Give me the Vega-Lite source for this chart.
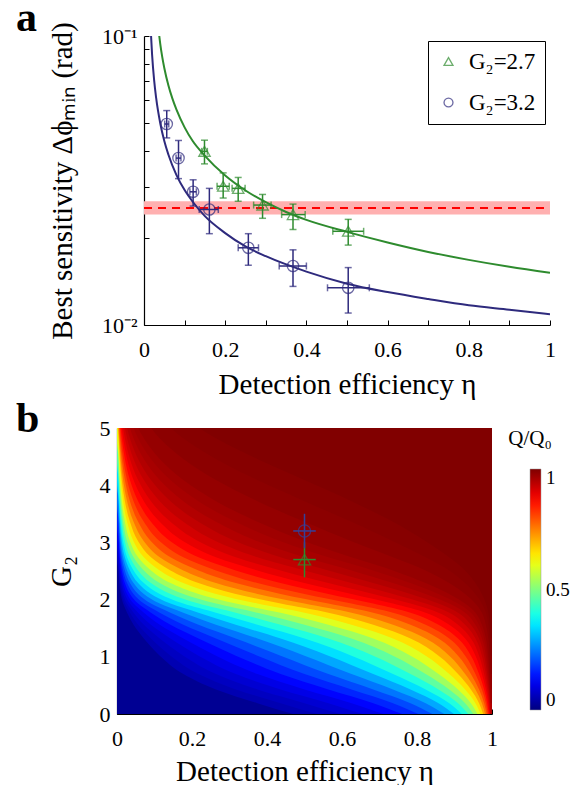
{
"$schema":"https://vega.github.io/schema/vega-lite/v6.json",
"padding":{"left":15,"top":-4,"right":0,"bottom":0},
"background":"white",
"config":{"font":"Liberation Serif","view":{"stroke":null},
"axis":{"domainColor":"#000","domainWidth":1.2,"tickColor":"#000","tickWidth":1,"tickSize":-5,"labelColor":"#000","labelFont":"Liberation Serif","labelFontSize":22,"titleFont":"Liberation Serif","titleFontSize":29,"titleFontWeight":"normal","titleColor":"#000","grid":false,"labelFlush":false,"zindex":1}},
"resolve":{"scale":{"color":"independent","shape":"independent","stroke":"independent","fill":"independent"},"legend":{"color":"independent","shape":"independent"}},
"spacing":-1,
"datasets":{
"ref":[{"x0":0,"x1":1,"lo":0.0241,"mid":0.0254,"hi":0.0268}],
"labA":[{"t":"a","x":-0.3153,"y":0.1041}],
"labB":[{"t":"b","x":-0.2693,"y":4.93}],
"curves":[
{"s":"G₂=2.7","x":0.0376,"y":0.1},{"s":"G₂=2.7","x":0.04,"y":0.094},{"s":"G₂=2.7","x":0.045,"y":0.0845},{"s":"G₂=2.7","x":0.05,"y":0.0775},{"s":"G₂=2.7","x":0.06,"y":0.0675},{"s":"G₂=2.7","x":0.07,"y":0.0607},{"s":"G₂=2.7","x":0.08,"y":0.0556},{"s":"G₂=2.7","x":0.1,"y":0.0483},{"s":"G₂=2.7","x":0.12,"y":0.0433},{"s":"G₂=2.7","x":0.15,"y":0.0385},{"s":"G₂=2.7","x":0.2,"y":0.0329},{"s":"G₂=2.7","x":0.25,"y":0.0292},{"s":"G₂=2.7","x":0.3,"y":0.0266},{"s":"G₂=2.7","x":0.35,"y":0.0246},{"s":"G₂=2.7","x":0.4,"y":0.0231},{"s":"G₂=2.7","x":0.5,"y":0.021},{"s":"G₂=2.7","x":0.6,"y":0.0193},{"s":"G₂=2.7","x":0.7,"y":0.0179},{"s":"G₂=2.7","x":0.8,"y":0.0168},{"s":"G₂=2.7","x":0.9,"y":0.0159},{"s":"G₂=2.7","x":1.0,"y":0.01516},
{"s":"G₂=3.2","x":0.0174,"y":0.1},{"s":"G₂=3.2","x":0.02,"y":0.0859},{"s":"G₂=3.2","x":0.025,"y":0.0702},{"s":"G₂=3.2","x":0.03,"y":0.0609},{"s":"G₂=3.2","x":0.04,"y":0.0499},{"s":"G₂=3.2","x":0.05,"y":0.0433},{"s":"G₂=3.2","x":0.06,"y":0.0389},{"s":"G₂=3.2","x":0.08,"y":0.033},{"s":"G₂=3.2","x":0.1,"y":0.0293},{"s":"G₂=3.2","x":0.12,"y":0.0267},{"s":"G₂=3.2","x":0.15,"y":0.0238},{"s":"G₂=3.2","x":0.2,"y":0.0208},{"s":"G₂=3.2","x":0.25,"y":0.0187},{"s":"G₂=3.2","x":0.3,"y":0.0173},{"s":"G₂=3.2","x":0.4,"y":0.0153},{"s":"G₂=3.2","x":0.5,"y":0.0139},{"s":"G₂=3.2","x":0.6,"y":0.013},{"s":"G₂=3.2","x":0.7,"y":0.0123},{"s":"G₂=3.2","x":0.8,"y":0.0117},{"s":"G₂=3.2","x":0.9,"y":0.0113},{"s":"G₂=3.2","x":1.0,"y":0.0109}],
"pts":[
{"s":"G₂=2.7","x":0.149,"y":0.0399,"ylo":0.0361,"yhi":0.0436,"xlo":0.142,"xhi":0.156},
{"s":"G₂=2.7","x":0.195,"y":0.0302,"ylo":0.0275,"yhi":0.0336,"xlo":0.18,"xhi":0.21},
{"s":"G₂=2.7","x":0.232,"y":0.0297,"ylo":0.0268,"yhi":0.0324,"xlo":0.217,"xhi":0.249},
{"s":"G₂=2.7","x":0.292,"y":0.026,"ylo":0.0234,"yhi":0.0283,"xlo":0.27,"xhi":0.313},
{"s":"G₂=2.7","x":0.367,"y":0.0241,"ylo":0.0214,"yhi":0.0262,"xlo":0.339,"xhi":0.397},
{"s":"G₂=2.7","x":0.503,"y":0.0211,"ylo":0.0189,"yhi":0.0232,"xlo":0.465,"xhi":0.541},
{"s":"G₂=3.2","x":0.056,"y":0.0496,"ylo":0.0444,"yhi":0.0552,"xlo":0.051,"xhi":0.061},
{"s":"G₂=3.2","x":0.085,"y":0.0378,"ylo":0.0321,"yhi":0.0435,"xlo":0.079,"xhi":0.091},
{"s":"G₂=3.2","x":0.121,"y":0.0289,"ylo":0.0258,"yhi":0.0318,"xlo":0.113,"xhi":0.129},
{"s":"G₂=3.2","x":0.161,"y":0.0251,"ylo":0.0207,"yhi":0.0297,"xlo":0.136,"xhi":0.183},
{"s":"G₂=3.2","x":0.257,"y":0.0185,"ylo":0.0161,"yhi":0.0207,"xlo":0.232,"xhi":0.282},
{"s":"G₂=3.2","x":0.367,"y":0.016,"ylo":0.0136,"yhi":0.0182,"xlo":0.333,"xhi":0.4},
{"s":"G₂=3.2","x":0.503,"y":0.01345,"ylo":0.011,"yhi":0.0158,"xlo":0.452,"xhi":0.555}],
"pts2":[
{"s":"G₂=2.7","x":0.5,"y":2.7,"ylo":2.39,"yhi":3.0,"xlo":0.47,"xhi":0.53},
{"s":"G₂=3.2","x":0.5,"y":3.2,"ylo":2.9,"yhi":3.5,"xlo":0.47,"xhi":0.53}],
"cont":[
{"q":0.02,"g":-0.06,"e":0},{"q":0.02,"g":5.19,"e":0},
{"q":0.05,"g":-0.06,"e":0.5},{"q":0.05,"g":0.19,"e":0.3746},{"q":0.05,"g":0.43,"e":0.264},{"q":0.05,"g":0.7,"e":0.1769},{"q":0.05,"g":1.02,"e":0.114},{"q":0.05,"g":1.32,"e":0.0716},{"q":0.05,"g":1.56,"e":0.0441},{"q":0.05,"g":1.77,"e":0.0269},{"q":0.05,"g":1.93,"e":0.0163},{"q":0.05,"g":2.1,"e":0.0098},{"q":0.05,"g":2.29,"e":0.0059},{"q":0.05,"g":2.51,"e":0.0036},{"q":0.05,"g":2.74,"e":0},{"q":0.05,"g":5.19,"e":0},
{"q":0.064,"g":-0.06,"e":0.5637},{"q":0.064,"g":0.19,"e":0.4363},{"q":0.064,"g":0.43,"e":0.3167},{"q":0.064,"g":0.7,"e":0.2173},{"q":0.064,"g":1.02,"e":0.1426},{"q":0.064,"g":1.32,"e":0.0906},{"q":0.064,"g":1.56,"e":0.0563},{"q":0.064,"g":1.77,"e":0.0345},{"q":0.064,"g":1.93,"e":0.021},{"q":0.064,"g":2.1,"e":0.0127},{"q":0.064,"g":2.29,"e":0.0076},{"q":0.064,"g":2.51,"e":0.0046},{"q":0.064,"g":2.74,"e":0},{"q":0.064,"g":5.19,"e":0},
{"q":0.081,"g":-0.06,"e":0.6254},{"q":0.081,"g":0.19,"e":0.5},{"q":0.081,"g":0.43,"e":0.3746},{"q":0.081,"g":0.7,"e":0.264},{"q":0.081,"g":1.02,"e":0.1769},{"q":0.081,"g":1.32,"e":0.114},{"q":0.081,"g":1.56,"e":0.0716},{"q":0.081,"g":1.77,"e":0.0441},{"q":0.081,"g":1.93,"e":0.0269},{"q":0.081,"g":2.1,"e":0.0163},{"q":0.081,"g":2.29,"e":0.0098},{"q":0.081,"g":2.51,"e":0.0059},{"q":0.081,"g":2.74,"e":0.0036},{"q":0.081,"g":3.02,"e":0},{"q":0.081,"g":5.19,"e":0},
{"q":0.102,"g":-0.06,"e":0.6833},{"q":0.102,"g":0.19,"e":0.5637},{"q":0.102,"g":0.43,"e":0.4363},{"q":0.102,"g":0.7,"e":0.3167},{"q":0.102,"g":1.02,"e":0.2173},{"q":0.102,"g":1.32,"e":0.1426},{"q":0.102,"g":1.56,"e":0.0906},{"q":0.102,"g":1.77,"e":0.0563},{"q":0.102,"g":1.93,"e":0.0345},{"q":0.102,"g":2.1,"e":0.021},{"q":0.102,"g":2.29,"e":0.0127},{"q":0.102,"g":2.51,"e":0.0076},{"q":0.102,"g":2.74,"e":0.0046},{"q":0.102,"g":3.02,"e":0},{"q":0.102,"g":5.19,"e":0},
{"q":0.128,"g":-0.06,"e":0.736},{"q":0.128,"g":0.19,"e":0.6254},{"q":0.128,"g":0.43,"e":0.5},{"q":0.128,"g":0.7,"e":0.3746},{"q":0.128,"g":1.02,"e":0.264},{"q":0.128,"g":1.32,"e":0.1769},{"q":0.128,"g":1.56,"e":0.114},{"q":0.128,"g":1.77,"e":0.0716},{"q":0.128,"g":1.93,"e":0.0441},{"q":0.128,"g":2.1,"e":0.0269},{"q":0.128,"g":2.29,"e":0.0163},{"q":0.128,"g":2.51,"e":0.0098},{"q":0.128,"g":2.74,"e":0.0059},{"q":0.128,"g":3.02,"e":0.0036},{"q":0.128,"g":3.36,"e":0},{"q":0.128,"g":5.19,"e":0},
{"q":0.16,"g":-0.06,"e":0.7827},{"q":0.16,"g":0.19,"e":0.6833},{"q":0.16,"g":0.43,"e":0.5637},{"q":0.16,"g":0.7,"e":0.4363},{"q":0.16,"g":1.02,"e":0.3167},{"q":0.16,"g":1.32,"e":0.2173},{"q":0.16,"g":1.56,"e":0.1426},{"q":0.16,"g":1.77,"e":0.0906},{"q":0.16,"g":1.93,"e":0.0563},{"q":0.16,"g":2.1,"e":0.0345},{"q":0.16,"g":2.29,"e":0.021},{"q":0.16,"g":2.51,"e":0.0127},{"q":0.16,"g":2.74,"e":0.0076},{"q":0.16,"g":3.02,"e":0.0046},{"q":0.16,"g":3.36,"e":0},{"q":0.16,"g":5.19,"e":0},
{"q":0.197,"g":-0.06,"e":0.8231},{"q":0.197,"g":0.19,"e":0.736},{"q":0.197,"g":0.43,"e":0.6254},{"q":0.197,"g":0.7,"e":0.5},{"q":0.197,"g":1.02,"e":0.3746},{"q":0.197,"g":1.32,"e":0.264},{"q":0.197,"g":1.56,"e":0.1769},{"q":0.197,"g":1.77,"e":0.114},{"q":0.197,"g":1.93,"e":0.0716},{"q":0.197,"g":2.1,"e":0.0441},{"q":0.197,"g":2.29,"e":0.0269},{"q":0.197,"g":2.51,"e":0.0163},{"q":0.197,"g":2.74,"e":0.0098},{"q":0.197,"g":3.02,"e":0.0059},{"q":0.197,"g":3.36,"e":0.0036},{"q":0.197,"g":3.72,"e":0},{"q":0.197,"g":5.19,"e":0},
{"q":0.241,"g":-0.06,"e":0.8574},{"q":0.241,"g":0.19,"e":0.7827},{"q":0.241,"g":0.43,"e":0.6833},{"q":0.241,"g":0.7,"e":0.5637},{"q":0.241,"g":1.02,"e":0.4363},{"q":0.241,"g":1.32,"e":0.3167},{"q":0.241,"g":1.56,"e":0.2173},{"q":0.241,"g":1.77,"e":0.1426},{"q":0.241,"g":1.93,"e":0.0906},{"q":0.241,"g":2.1,"e":0.0563},{"q":0.241,"g":2.29,"e":0.0345},{"q":0.241,"g":2.51,"e":0.021},{"q":0.241,"g":2.74,"e":0.0127},{"q":0.241,"g":3.02,"e":0.0076},{"q":0.241,"g":3.36,"e":0.0046},{"q":0.241,"g":3.72,"e":0},{"q":0.241,"g":5.19,"e":0},
{"q":0.29,"g":-0.06,"e":0.886},{"q":0.29,"g":0.19,"e":0.8231},{"q":0.29,"g":0.43,"e":0.736},{"q":0.29,"g":0.7,"e":0.6254},{"q":0.29,"g":1.02,"e":0.5},{"q":0.29,"g":1.32,"e":0.3746},{"q":0.29,"g":1.56,"e":0.264},{"q":0.29,"g":1.77,"e":0.1769},{"q":0.29,"g":1.93,"e":0.114},{"q":0.29,"g":2.1,"e":0.0716},{"q":0.29,"g":2.29,"e":0.0441},{"q":0.29,"g":2.51,"e":0.0269},{"q":0.29,"g":2.74,"e":0.0163},{"q":0.29,"g":3.02,"e":0.0098},{"q":0.29,"g":3.36,"e":0.0059},{"q":0.29,"g":3.72,"e":0.0036},{"q":0.29,"g":4.09,"e":0},{"q":0.29,"g":5.19,"e":0},
{"q":0.346,"g":-0.06,"e":0.9094},{"q":0.346,"g":0.19,"e":0.8574},{"q":0.346,"g":0.43,"e":0.7827},{"q":0.346,"g":0.7,"e":0.6833},{"q":0.346,"g":1.02,"e":0.5637},{"q":0.346,"g":1.32,"e":0.4363},{"q":0.346,"g":1.56,"e":0.3167},{"q":0.346,"g":1.77,"e":0.2173},{"q":0.346,"g":1.93,"e":0.1426},{"q":0.346,"g":2.1,"e":0.0906},{"q":0.346,"g":2.29,"e":0.0563},{"q":0.346,"g":2.51,"e":0.0345},{"q":0.346,"g":2.74,"e":0.021},{"q":0.346,"g":3.02,"e":0.0127},{"q":0.346,"g":3.36,"e":0.0076},{"q":0.346,"g":3.72,"e":0.0046},{"q":0.346,"g":4.09,"e":0},{"q":0.346,"g":5.19,"e":0},
{"q":0.406,"g":-0.06,"e":0.9284},{"q":0.406,"g":0.19,"e":0.886},{"q":0.406,"g":0.43,"e":0.8231},{"q":0.406,"g":0.7,"e":0.736},{"q":0.406,"g":1.02,"e":0.6254},{"q":0.406,"g":1.32,"e":0.5},{"q":0.406,"g":1.56,"e":0.3746},{"q":0.406,"g":1.77,"e":0.264},{"q":0.406,"g":1.93,"e":0.1769},{"q":0.406,"g":2.1,"e":0.114},{"q":0.406,"g":2.29,"e":0.0716},{"q":0.406,"g":2.51,"e":0.0441},{"q":0.406,"g":2.74,"e":0.0269},{"q":0.406,"g":3.02,"e":0.0163},{"q":0.406,"g":3.36,"e":0.0098},{"q":0.406,"g":3.72,"e":0.0059},{"q":0.406,"g":4.09,"e":0.0036},{"q":0.406,"g":4.46,"e":0},{"q":0.406,"g":5.19,"e":0},
{"q":0.468,"g":-0.06,"e":0.9437},{"q":0.468,"g":0.19,"e":0.9094},{"q":0.468,"g":0.43,"e":0.8574},{"q":0.468,"g":0.7,"e":0.7827},{"q":0.468,"g":1.02,"e":0.6833},{"q":0.468,"g":1.32,"e":0.5637},{"q":0.468,"g":1.56,"e":0.4363},{"q":0.468,"g":1.77,"e":0.3167},{"q":0.468,"g":1.93,"e":0.2173},{"q":0.468,"g":2.1,"e":0.1426},{"q":0.468,"g":2.29,"e":0.0906},{"q":0.468,"g":2.51,"e":0.0563},{"q":0.468,"g":2.74,"e":0.0345},{"q":0.468,"g":3.02,"e":0.021},{"q":0.468,"g":3.36,"e":0.0127},{"q":0.468,"g":3.72,"e":0.0076},{"q":0.468,"g":4.09,"e":0.0046},{"q":0.468,"g":4.46,"e":0},{"q":0.468,"g":5.19,"e":0},
{"q":0.532,"g":-0.06,"e":0.9559},{"q":0.532,"g":0.19,"e":0.9284},{"q":0.532,"g":0.43,"e":0.886},{"q":0.532,"g":0.7,"e":0.8231},{"q":0.532,"g":1.02,"e":0.736},{"q":0.532,"g":1.32,"e":0.6254},{"q":0.532,"g":1.56,"e":0.5},{"q":0.532,"g":1.77,"e":0.3746},{"q":0.532,"g":1.93,"e":0.264},{"q":0.532,"g":2.1,"e":0.1769},{"q":0.532,"g":2.29,"e":0.114},{"q":0.532,"g":2.51,"e":0.0716},{"q":0.532,"g":2.74,"e":0.0441},{"q":0.532,"g":3.02,"e":0.0269},{"q":0.532,"g":3.36,"e":0.0163},{"q":0.532,"g":3.72,"e":0.0098},{"q":0.532,"g":4.09,"e":0.0059},{"q":0.532,"g":4.46,"e":0.0036},{"q":0.532,"g":4.82,"e":0},{"q":0.532,"g":5.19,"e":0},
{"q":0.595,"g":-0.06,"e":0.9655},{"q":0.595,"g":0.19,"e":0.9437},{"q":0.595,"g":0.43,"e":0.9094},{"q":0.595,"g":0.7,"e":0.8574},{"q":0.595,"g":1.02,"e":0.7827},{"q":0.595,"g":1.32,"e":0.6833},{"q":0.595,"g":1.56,"e":0.5637},{"q":0.595,"g":1.77,"e":0.4363},{"q":0.595,"g":1.93,"e":0.3167},{"q":0.595,"g":2.1,"e":0.2173},{"q":0.595,"g":2.29,"e":0.1426},{"q":0.595,"g":2.51,"e":0.0906},{"q":0.595,"g":2.74,"e":0.0563},{"q":0.595,"g":3.02,"e":0.0345},{"q":0.595,"g":3.36,"e":0.021},{"q":0.595,"g":3.72,"e":0.0127},{"q":0.595,"g":4.09,"e":0.0076},{"q":0.595,"g":4.46,"e":0.0046},{"q":0.595,"g":4.82,"e":0},{"q":0.595,"g":5.19,"e":0},
{"q":0.654,"g":-0.06,"e":0.9731},{"q":0.654,"g":0.19,"e":0.9559},{"q":0.654,"g":0.43,"e":0.9284},{"q":0.654,"g":0.7,"e":0.886},{"q":0.654,"g":1.02,"e":0.8231},{"q":0.654,"g":1.32,"e":0.736},{"q":0.654,"g":1.56,"e":0.6254},{"q":0.654,"g":1.77,"e":0.5},{"q":0.654,"g":1.93,"e":0.3746},{"q":0.654,"g":2.1,"e":0.264},{"q":0.654,"g":2.29,"e":0.1769},{"q":0.654,"g":2.51,"e":0.114},{"q":0.654,"g":2.74,"e":0.0716},{"q":0.654,"g":3.02,"e":0.0441},{"q":0.654,"g":3.36,"e":0.0269},{"q":0.654,"g":3.72,"e":0.0163},{"q":0.654,"g":4.09,"e":0.0098},{"q":0.654,"g":4.46,"e":0.0059},{"q":0.654,"g":4.82,"e":0.0036},{"q":0.654,"g":5.19,"e":0},
{"q":0.71,"g":-0.06,"e":0.979},{"q":0.71,"g":0.19,"e":0.9655},{"q":0.71,"g":0.43,"e":0.9437},{"q":0.71,"g":0.7,"e":0.9094},{"q":0.71,"g":1.02,"e":0.8574},{"q":0.71,"g":1.32,"e":0.7827},{"q":0.71,"g":1.56,"e":0.6833},{"q":0.71,"g":1.77,"e":0.5637},{"q":0.71,"g":1.93,"e":0.4363},{"q":0.71,"g":2.1,"e":0.3167},{"q":0.71,"g":2.29,"e":0.2173},{"q":0.71,"g":2.51,"e":0.1426},{"q":0.71,"g":2.74,"e":0.0906},{"q":0.71,"g":3.02,"e":0.0563},{"q":0.71,"g":3.36,"e":0.0345},{"q":0.71,"g":3.72,"e":0.021},{"q":0.71,"g":4.09,"e":0.0127},{"q":0.71,"g":4.46,"e":0.0076},{"q":0.71,"g":4.82,"e":0.0046},{"q":0.71,"g":5.19,"e":0},
{"q":0.759,"g":-0.06,"e":0.9837},{"q":0.759,"g":0.19,"e":0.9731},{"q":0.759,"g":0.43,"e":0.9559},{"q":0.759,"g":0.7,"e":0.9284},{"q":0.759,"g":1.02,"e":0.886},{"q":0.759,"g":1.32,"e":0.8231},{"q":0.759,"g":1.56,"e":0.736},{"q":0.759,"g":1.77,"e":0.6254},{"q":0.759,"g":1.93,"e":0.5},{"q":0.759,"g":2.1,"e":0.3746},{"q":0.759,"g":2.29,"e":0.264},{"q":0.759,"g":2.51,"e":0.1769},{"q":0.759,"g":2.74,"e":0.114},{"q":0.759,"g":3.02,"e":0.0716},{"q":0.759,"g":3.36,"e":0.0441},{"q":0.759,"g":3.72,"e":0.0269},{"q":0.759,"g":4.09,"e":0.0163},{"q":0.759,"g":4.46,"e":0.0098},{"q":0.759,"g":4.82,"e":0.0059},{"q":0.759,"g":5.19,"e":0.0036},
{"q":0.803,"g":-0.06,"e":0.9873},{"q":0.803,"g":0.19,"e":0.979},{"q":0.803,"g":0.43,"e":0.9655},{"q":0.803,"g":0.7,"e":0.9437},{"q":0.803,"g":1.02,"e":0.9094},{"q":0.803,"g":1.32,"e":0.8574},{"q":0.803,"g":1.56,"e":0.7827},{"q":0.803,"g":1.77,"e":0.6833},{"q":0.803,"g":1.93,"e":0.5637},{"q":0.803,"g":2.1,"e":0.4363},{"q":0.803,"g":2.29,"e":0.3167},{"q":0.803,"g":2.51,"e":0.2173},{"q":0.803,"g":2.74,"e":0.1426},{"q":0.803,"g":3.02,"e":0.0906},{"q":0.803,"g":3.36,"e":0.0563},{"q":0.803,"g":3.72,"e":0.0345},{"q":0.803,"g":4.09,"e":0.021},{"q":0.803,"g":4.46,"e":0.0127},{"q":0.803,"g":4.82,"e":0.0076},{"q":0.803,"g":5.19,"e":0.0046},
{"q":0.84,"g":-0.06,"e":0.9902},{"q":0.84,"g":0.19,"e":0.9837},{"q":0.84,"g":0.43,"e":0.9731},{"q":0.84,"g":0.7,"e":0.9559},{"q":0.84,"g":1.02,"e":0.9284},{"q":0.84,"g":1.32,"e":0.886},{"q":0.84,"g":1.56,"e":0.8231},{"q":0.84,"g":1.77,"e":0.736},{"q":0.84,"g":1.93,"e":0.6254},{"q":0.84,"g":2.1,"e":0.5},{"q":0.84,"g":2.29,"e":0.3746},{"q":0.84,"g":2.51,"e":0.264},{"q":0.84,"g":2.74,"e":0.1769},{"q":0.84,"g":3.02,"e":0.114},{"q":0.84,"g":3.36,"e":0.0716},{"q":0.84,"g":3.72,"e":0.0441},{"q":0.84,"g":4.09,"e":0.0269},{"q":0.84,"g":4.46,"e":0.0163},{"q":0.84,"g":4.82,"e":0.0098},{"q":0.84,"g":5.19,"e":0.0059},
{"q":0.872,"g":-0.06,"e":0.9924},{"q":0.872,"g":0.19,"e":0.9873},{"q":0.872,"g":0.43,"e":0.979},{"q":0.872,"g":0.7,"e":0.9655},{"q":0.872,"g":1.02,"e":0.9437},{"q":0.872,"g":1.32,"e":0.9094},{"q":0.872,"g":1.56,"e":0.8574},{"q":0.872,"g":1.77,"e":0.7827},{"q":0.872,"g":1.93,"e":0.6833},{"q":0.872,"g":2.1,"e":0.5637},{"q":0.872,"g":2.29,"e":0.4363},{"q":0.872,"g":2.51,"e":0.3167},{"q":0.872,"g":2.74,"e":0.2173},{"q":0.872,"g":3.02,"e":0.1426},{"q":0.872,"g":3.36,"e":0.0906},{"q":0.872,"g":3.72,"e":0.0563},{"q":0.872,"g":4.09,"e":0.0345},{"q":0.872,"g":4.46,"e":0.021},{"q":0.872,"g":4.82,"e":0.0127},{"q":0.872,"g":5.19,"e":0.0076},
{"q":0.898,"g":-0.06,"e":0.9941},{"q":0.898,"g":0.19,"e":0.9902},{"q":0.898,"g":0.43,"e":0.9837},{"q":0.898,"g":0.7,"e":0.9731},{"q":0.898,"g":1.02,"e":0.9559},{"q":0.898,"g":1.32,"e":0.9284},{"q":0.898,"g":1.56,"e":0.886},{"q":0.898,"g":1.77,"e":0.8231},{"q":0.898,"g":1.93,"e":0.736},{"q":0.898,"g":2.1,"e":0.6254},{"q":0.898,"g":2.29,"e":0.5},{"q":0.898,"g":2.51,"e":0.3746},{"q":0.898,"g":2.74,"e":0.264},{"q":0.898,"g":3.02,"e":0.1769},{"q":0.898,"g":3.36,"e":0.114},{"q":0.898,"g":3.72,"e":0.0716},{"q":0.898,"g":4.09,"e":0.0441},{"q":0.898,"g":4.46,"e":0.0269},{"q":0.898,"g":4.82,"e":0.0163},{"q":0.898,"g":5.19,"e":0.0098},
{"q":0.919,"g":-0.06,"e":0.9954},{"q":0.919,"g":0.19,"e":0.9924},{"q":0.919,"g":0.43,"e":0.9873},{"q":0.919,"g":0.7,"e":0.979},{"q":0.919,"g":1.02,"e":0.9655},{"q":0.919,"g":1.32,"e":0.9437},{"q":0.919,"g":1.56,"e":0.9094},{"q":0.919,"g":1.77,"e":0.8574},{"q":0.919,"g":1.93,"e":0.7827},{"q":0.919,"g":2.1,"e":0.6833},{"q":0.919,"g":2.29,"e":0.5637},{"q":0.919,"g":2.51,"e":0.4363},{"q":0.919,"g":2.74,"e":0.3167},{"q":0.919,"g":3.02,"e":0.2173},{"q":0.919,"g":3.36,"e":0.1426},{"q":0.919,"g":3.72,"e":0.0906},{"q":0.919,"g":4.09,"e":0.0563},{"q":0.919,"g":4.46,"e":0.0345},{"q":0.919,"g":4.82,"e":0.021},{"q":0.919,"g":5.19,"e":0.0127},
{"q":0.936,"g":-0.06,"e":0.9965},{"q":0.936,"g":0.19,"e":0.9941},{"q":0.936,"g":0.43,"e":0.9902},{"q":0.936,"g":0.7,"e":0.9837},{"q":0.936,"g":1.02,"e":0.9731},{"q":0.936,"g":1.32,"e":0.9559},{"q":0.936,"g":1.56,"e":0.9284},{"q":0.936,"g":1.77,"e":0.886},{"q":0.936,"g":1.93,"e":0.8231},{"q":0.936,"g":2.1,"e":0.736},{"q":0.936,"g":2.29,"e":0.6254},{"q":0.936,"g":2.51,"e":0.5},{"q":0.936,"g":2.74,"e":0.3746},{"q":0.936,"g":3.02,"e":0.264},{"q":0.936,"g":3.36,"e":0.1769},{"q":0.936,"g":3.72,"e":0.114},{"q":0.936,"g":4.09,"e":0.0716},{"q":0.936,"g":4.46,"e":0.0441},{"q":0.936,"g":4.82,"e":0.0269},{"q":0.936,"g":5.19,"e":0.0163},
{"q":0.95,"g":-0.06,"e":0.9972},{"q":0.95,"g":0.19,"e":0.9954},{"q":0.95,"g":0.43,"e":0.9924},{"q":0.95,"g":0.7,"e":0.9873},{"q":0.95,"g":1.02,"e":0.979},{"q":0.95,"g":1.32,"e":0.9655},{"q":0.95,"g":1.56,"e":0.9437},{"q":0.95,"g":1.77,"e":0.9094},{"q":0.95,"g":1.93,"e":0.8574},{"q":0.95,"g":2.1,"e":0.7827},{"q":0.95,"g":2.29,"e":0.6833},{"q":0.95,"g":2.51,"e":0.5637},{"q":0.95,"g":2.74,"e":0.4363},{"q":0.95,"g":3.02,"e":0.3167},{"q":0.95,"g":3.36,"e":0.2173},{"q":0.95,"g":3.72,"e":0.1426},{"q":0.95,"g":4.09,"e":0.0906},{"q":0.95,"g":4.46,"e":0.0563},{"q":0.95,"g":4.82,"e":0.0345},{"q":0.95,"g":5.19,"e":0.021},
{"q":0.961,"g":0.19,"e":0.9965},{"q":0.961,"g":0.43,"e":0.9941},{"q":0.961,"g":0.7,"e":0.9902},{"q":0.961,"g":1.02,"e":0.9837},{"q":0.961,"g":1.32,"e":0.9731},{"q":0.961,"g":1.56,"e":0.9559},{"q":0.961,"g":1.77,"e":0.9284},{"q":0.961,"g":1.93,"e":0.886},{"q":0.961,"g":2.1,"e":0.8231},{"q":0.961,"g":2.29,"e":0.736},{"q":0.961,"g":2.51,"e":0.6254},{"q":0.961,"g":2.74,"e":0.5},{"q":0.961,"g":3.02,"e":0.3746},{"q":0.961,"g":3.36,"e":0.264},{"q":0.961,"g":3.72,"e":0.1769},{"q":0.961,"g":4.09,"e":0.114},{"q":0.961,"g":4.46,"e":0.0716},{"q":0.961,"g":4.82,"e":0.0441},{"q":0.961,"g":5.19,"e":0.0269},
{"q":0.969,"g":0.19,"e":0.9972},{"q":0.969,"g":0.43,"e":0.9954},{"q":0.969,"g":0.7,"e":0.9924},{"q":0.969,"g":1.02,"e":0.9873},{"q":0.969,"g":1.32,"e":0.979},{"q":0.969,"g":1.56,"e":0.9655},{"q":0.969,"g":1.77,"e":0.9437},{"q":0.969,"g":1.93,"e":0.9094},{"q":0.969,"g":2.1,"e":0.8574},{"q":0.969,"g":2.29,"e":0.7827},{"q":0.969,"g":2.51,"e":0.6833},{"q":0.969,"g":2.74,"e":0.5637},{"q":0.969,"g":3.02,"e":0.4363},{"q":0.969,"g":3.36,"e":0.3167},{"q":0.969,"g":3.72,"e":0.2173},{"q":0.969,"g":4.09,"e":0.1426},{"q":0.969,"g":4.46,"e":0.0906},{"q":0.969,"g":4.82,"e":0.0563},{"q":0.969,"g":5.19,"e":0.0345},
{"q":0.979,"g":0.43,"e":0.9965},{"q":0.979,"g":0.7,"e":0.9941},{"q":0.979,"g":1.02,"e":0.9902},{"q":0.979,"g":1.32,"e":0.9837},{"q":0.979,"g":1.56,"e":0.9731},{"q":0.979,"g":1.77,"e":0.9559},{"q":0.979,"g":1.93,"e":0.9284},{"q":0.979,"g":2.1,"e":0.886},{"q":0.979,"g":2.29,"e":0.8231},{"q":0.979,"g":2.51,"e":0.736},{"q":0.979,"g":2.74,"e":0.6254},{"q":0.979,"g":3.02,"e":0.5},{"q":0.979,"g":3.36,"e":0.3746},{"q":0.979,"g":3.72,"e":0.264},{"q":0.979,"g":4.09,"e":0.1769},{"q":0.979,"g":4.46,"e":0.114},{"q":0.979,"g":4.82,"e":0.0716},{"q":0.979,"g":5.19,"e":0.0441},
{"q":0.987,"g":0.7,"e":0.9965},{"q":0.987,"g":1.02,"e":0.9941},{"q":0.987,"g":1.32,"e":0.9902},{"q":0.987,"g":1.56,"e":0.9837},{"q":0.987,"g":1.77,"e":0.9731},{"q":0.987,"g":1.93,"e":0.9559},{"q":0.987,"g":2.1,"e":0.9284},{"q":0.987,"g":2.29,"e":0.886},{"q":0.987,"g":2.51,"e":0.8231},{"q":0.987,"g":2.74,"e":0.736},{"q":0.987,"g":3.02,"e":0.6254},{"q":0.987,"g":3.36,"e":0.5},{"q":0.987,"g":3.72,"e":0.3746},{"q":0.987,"g":4.09,"e":0.264},{"q":0.987,"g":4.46,"e":0.1769},{"q":0.987,"g":4.82,"e":0.114},{"q":0.987,"g":5.19,"e":0.0716},
{"q":0.992,"g":1.02,"e":0.9965},{"q":0.992,"g":1.32,"e":0.9941},{"q":0.992,"g":1.56,"e":0.9902},{"q":0.992,"g":1.77,"e":0.9837},{"q":0.992,"g":1.93,"e":0.9731},{"q":0.992,"g":2.1,"e":0.9559},{"q":0.992,"g":2.29,"e":0.9284},{"q":0.992,"g":2.51,"e":0.886},{"q":0.992,"g":2.74,"e":0.8231},{"q":0.992,"g":3.02,"e":0.736},{"q":0.992,"g":3.36,"e":0.6254},{"q":0.992,"g":3.72,"e":0.5},{"q":0.992,"g":4.09,"e":0.3746},{"q":0.992,"g":4.46,"e":0.264},{"q":0.992,"g":4.82,"e":0.1769},{"q":0.992,"g":5.19,"e":0.114},
{"q":0.998,"g":1.32,"e":0.9965},{"q":0.998,"g":1.56,"e":0.9941},{"q":0.998,"g":1.77,"e":0.9902},{"q":0.998,"g":1.93,"e":0.9837},{"q":0.998,"g":2.1,"e":0.9731},{"q":0.998,"g":2.29,"e":0.9559},{"q":0.998,"g":2.51,"e":0.9284},{"q":0.998,"g":2.74,"e":0.886},{"q":0.998,"g":3.02,"e":0.8231},{"q":0.998,"g":3.36,"e":0.736},{"q":0.998,"g":3.72,"e":0.6254},{"q":0.998,"g":4.09,"e":0.5},{"q":0.998,"g":4.46,"e":0.3746},{"q":0.998,"g":4.82,"e":0.264},{"q":0.998,"g":5.19,"e":0.1769}
]},
"vconcat":[
{"width":433,"height":289,
"layer":[
{"data":{"name":"ref"},"mark":{"type":"rect","color":"#ffb0b0"},
"encoding":{"x":{"field":"x0","type":"quantitative","title":"Detection efficiency η","scale":{"domain":[0,1],"range":[27,433],"nice":false,"zero":false}},"x2":{"field":"x1"},
"y":{"field":"lo","type":"quantitative","title":"Best sensitivity Δϕₘᵢₙ (rad)","scale":{"type":"log","domain":[0.01,0.1],"nice":false}},"y2":{"field":"hi"}}},
{"data":{"name":"ref"},"mark":{"type":"rule","color":"#ff0000","strokeWidth":2,"strokeDash":[8,6]},
"encoding":{"x":{"field":"x0","type":"quantitative","title":"Detection efficiency η"},"x2":{"field":"x1"},"y":{"field":"mid","type":"quantitative","title":"Best sensitivity Δϕₘᵢₙ (rad)","scale":{"type":"log","domain":[0.01,0.1],"nice":false}}}},
{"data":{"name":"curves"},"mark":{"type":"line","strokeWidth":2,"clip":true,"interpolate":"monotone"},
"encoding":{"x":{"field":"x","type":"quantitative","title":"Detection efficiency η","scale":{"domain":[0,1],"range":[27,433],"nice":false,"zero":false},
"axis":{"values":[0,0.05,0.1,0.15,0.2,0.25,0.3,0.35,0.4,0.45,0.5,0.55,0.6,0.65,0.7,0.75,0.8,0.85,0.9,0.95,1],"labelExpr":"round(datum.value*100) % 20 === 0 ? format(datum.value, '~g') : ''","labelFontSize":{"condition":{"test":"round(datum.value*100) % 20 !== 0","value":1},"value":22},"labelPadding":19,"titlePadding":10,"labelOverlap":false,"labelFlush":false}},
"y":{"field":"y","type":"quantitative","title":"Best sensitivity Δϕₘᵢₙ (rad)","scale":{"type":"log","domain":[0.01,0.1],"nice":false},
"axis":{"offset":-27,"values":[0.01,0.02,0.03,0.04,0.05,0.06,0.07,0.08,0.09,0.1],"labelExpr":"datum.value === 0.01 ? '10⁻²' : (datum.value === 0.1 ? '10⁻¹' : '')","labelPadding":12,"titlePadding":24,"labelOverlap":false,"labelFlush":false}},
"stroke":{"field":"s","type":"nominal","scale":{"domain":["G₂=3.2","G₂=2.7"],"range":["#2e2a7d","#2e8b2e"]},"legend":null}}},
{"data":{"name":"pts"},"mark":{"type":"rule","strokeWidth":1.5},
"encoding":{"x":{"field":"x","type":"quantitative","title":"Detection efficiency η"},"y":{"field":"ylo","type":"quantitative","title":"Best sensitivity Δϕₘᵢₙ (rad)","scale":{"type":"log","domain":[0.01,0.1],"nice":false}},"y2":{"field":"yhi"},
"stroke":{"field":"s","type":"nominal","scale":{"domain":["G₂=3.2","G₂=2.7"],"range":["#2e2a7d","#2e8b2e"]},"legend":null}}},
{"data":{"name":"pts"},"mark":{"type":"rule","strokeWidth":1.5},
"encoding":{"x":{"field":"xlo","type":"quantitative","title":"Detection efficiency η"},"x2":{"field":"xhi"},"y":{"field":"y","type":"quantitative","title":"Best sensitivity Δϕₘᵢₙ (rad)","scale":{"type":"log","domain":[0.01,0.1],"nice":false}},
"stroke":{"field":"s","type":"nominal","scale":{"domain":["G₂=3.2","G₂=2.7"],"range":["#2e2a7d","#2e8b2e"]},"legend":null}}},
{"data":{"name":"pts"},"mark":{"type":"tick","orient":"horizontal","size":7,"thickness":1.5},
"encoding":{"x":{"field":"x","type":"quantitative","title":"Detection efficiency η"},"y":{"field":"yhi","type":"quantitative","title":"Best sensitivity Δϕₘᵢₙ (rad)","scale":{"type":"log","domain":[0.01,0.1],"nice":false}},
"fill":{"field":"s","type":"nominal","scale":{"domain":["G₂=3.2","G₂=2.7"],"range":["#2e2a7d","#2e8b2e"]},"legend":null}}},
{"data":{"name":"pts"},"mark":{"type":"tick","orient":"horizontal","size":7,"thickness":1.5},
"encoding":{"x":{"field":"x","type":"quantitative","title":"Detection efficiency η"},"y":{"field":"ylo","type":"quantitative","title":"Best sensitivity Δϕₘᵢₙ (rad)","scale":{"type":"log","domain":[0.01,0.1],"nice":false}},
"fill":{"field":"s","type":"nominal","scale":{"domain":["G₂=3.2","G₂=2.7"],"range":["#2e2a7d","#2e8b2e"]},"legend":null}}},
{"data":{"name":"pts"},"mark":{"type":"tick","orient":"vertical","size":7,"thickness":1.5},
"encoding":{"x":{"field":"xlo","type":"quantitative","title":"Detection efficiency η"},"y":{"field":"y","type":"quantitative","title":"Best sensitivity Δϕₘᵢₙ (rad)","scale":{"type":"log","domain":[0.01,0.1],"nice":false}},
"fill":{"field":"s","type":"nominal","scale":{"domain":["G₂=3.2","G₂=2.7"],"range":["#2e2a7d","#2e8b2e"]},"legend":null}}},
{"data":{"name":"pts"},"mark":{"type":"tick","orient":"vertical","size":7,"thickness":1.5},
"encoding":{"x":{"field":"xhi","type":"quantitative","title":"Detection efficiency η"},"y":{"field":"y","type":"quantitative","title":"Best sensitivity Δϕₘᵢₙ (rad)","scale":{"type":"log","domain":[0.01,0.1],"nice":false}},
"fill":{"field":"s","type":"nominal","scale":{"domain":["G₂=3.2","G₂=2.7"],"range":["#2e2a7d","#2e8b2e"]},"legend":null}}},
{"data":{"name":"pts"},"mark":{"type":"point","filled":false,"size":130,"strokeWidth":1.3},
"encoding":{"x":{"field":"x","type":"quantitative","title":"Detection efficiency η"},"y":{"field":"y","type":"quantitative","title":"Best sensitivity Δϕₘᵢₙ (rad)","scale":{"type":"log","domain":[0.01,0.1],"nice":false}},
"color":{"field":"s","type":"nominal","scale":{"domain":["G₂=2.7","G₂=3.2"],"range":["#2e8b2e","#2e2a7d"]},
"legend":{"title":null,"orient":"top-right","offset":5,"strokeColor":"#000","fillColor":"#fff","padding":9,"labelFontSize":23,"labelFont":"Liberation Serif","labelColor":"#000","symbolSize":80,"symbolStrokeWidth":1.3,"rowPadding":17,"labelOffset":9}},
"shape":{"field":"s","type":"nominal","scale":{"domain":["G₂=2.7","G₂=3.2"],"range":["triangle-up","circle"]},
"legend":{"title":null,"orient":"top-right","offset":5,"strokeColor":"#000","fillColor":"#fff","padding":9,"labelFontSize":23,"labelFont":"Liberation Serif","labelColor":"#000","symbolSize":80,"symbolStrokeWidth":1.3,"rowPadding":17,"labelOffset":9}}}},
{"data":{"name":"labA"},"mark":{"type":"text","align":"left","baseline":"alphabetic","fontSize":42,"fontWeight":"bold","font":"Liberation Serif","color":"#000"},
"encoding":{"x":{"field":"x","type":"quantitative","title":"Detection efficiency η"},"y":{"field":"y","type":"quantitative","title":"Best sensitivity Δϕₘᵢₙ (rad)","scale":{"type":"log","domain":[0.01,0.1],"nice":false}},"text":{"field":"t"}}}
]},
{"width":375,"height":286,
"resolve":{"axis":{"y":"independent"}},
"layer":[
{"data":{"name":"cont"},"mark":{"type":"area","orient":"horizontal","interpolate":"monotone","clip":true},
"encoding":{"y":{"field":"g","type":"quantitative","title":"G₂","scale":{"domain":[0,5],"nice":false,"zero":false},
"axis":{"orient":"left","values":[0,1,2,3,4,5],"format":"d","labelPadding":12,"titlePadding":23,"labelOverlap":false,"labelFlush":false}},
"x":{"field":"e","type":"quantitative","title":"Detection efficiency η","stack":null,"scale":{"domain":[0,1],"nice":false,"zero":false},
"axis":{"values":[0,0.05,0.1,0.15,0.2,0.25,0.3,0.35,0.4,0.45,0.5,0.55,0.6,0.65,0.7,0.75,0.8,0.85,0.9,0.95,1],"labelExpr":"round(datum.value*100) % 20 === 0 ? format(datum.value, '~g') : ''","labelFontSize":{"condition":{"test":"round(datum.value*100) % 20 !== 0","value":1},"value":22},"labelPadding":19,"titlePadding":8,"labelOverlap":false,"labelFlush":false}},
"x2":{"datum":1},
"color":{"field":"q","type":"quantitative","scale":{"domain":[0,0.125,0.375,0.625,0.875,1],"range":["#00007f","#0000ff","#00ffff","#ffff00","#ff0000","#7f0000"],"interpolate":"rgb","zero":false,"nice":false},
"legend":{"title":"Q/Q₀","orient":"right","offset":16,"direction":"vertical","gradientLength":241,"gradientThickness":11,"values":[0,0.5,1],"format":"~g","labelFontSize":19,"labelFont":"Liberation Serif","labelColor":"#000","titleFont":"Liberation Serif","titleFontSize":21,"titleFontWeight":"normal","titleColor":"#000","titlePadding":20,"titleAnchor":"start","titleAlign":"center","labelOffset":5,"gradientStrokeColor":"#999","gradientStrokeWidth":0.5}}}},
{"data":{"name":"pts2"},"mark":{"type":"rule","strokeWidth":1.5},
"encoding":{"x":{"field":"x","type":"quantitative","title":"Detection efficiency η"},"y":{"field":"ylo","type":"quantitative","title":"G₂","axis":null},"y2":{"field":"yhi"},
"stroke":{"field":"s","type":"nominal","scale":{"domain":["G₂=2.7","G₂=3.2"],"range":["#2e8b2e","#34409a"]},"legend":null}}},
{"data":{"name":"pts2"},"mark":{"type":"rule","strokeWidth":1.5},
"encoding":{"x":{"field":"xlo","type":"quantitative","title":"Detection efficiency η"},"x2":{"field":"xhi"},"y":{"field":"y","type":"quantitative","title":"G₂","axis":null},
"stroke":{"field":"s","type":"nominal","scale":{"domain":["G₂=2.7","G₂=3.2"],"range":["#2e8b2e","#34409a"]},"legend":null}}},
{"data":{"name":"pts2"},"mark":{"type":"point","filled":false,"size":150,"strokeWidth":1.3},
"encoding":{"x":{"field":"x","type":"quantitative","title":"Detection efficiency η"},"y":{"field":"y","type":"quantitative","title":"G₂","axis":null},
"stroke":{"field":"s","type":"nominal","scale":{"domain":["G₂=2.7","G₂=3.2"],"range":["#2e8b2e","#34409a"]},"legend":null},
"shape":{"field":"s","type":"nominal","scale":{"domain":["G₂=2.7","G₂=3.2"],"range":["triangle-up","circle"]},"legend":null}}},
{"data":{"name":"labB"},"mark":{"type":"text","align":"left","baseline":"alphabetic","fontSize":42,"fontWeight":"bold","font":"Liberation Serif","color":"#000"},
"encoding":{"x":{"field":"x","type":"quantitative","title":"Detection efficiency η"},"y":{"field":"y","type":"quantitative","title":null,
"axis":{"orient":"left","values":[0.1,0.2,0.3,0.4,0.5,0.6,0.7,0.8,0.9,1.1,1.2,1.3,1.4,1.5,1.6,1.7,1.8,1.9,2.1,2.2,2.3,2.4,2.5,2.6,2.7,2.8,2.9,3.1,3.2,3.3,3.4,3.5,3.6,3.7,3.8,3.9,4.1,4.2,4.3,4.4,4.5,4.6,4.7,4.8,4.9],"labels":false,"domain":false,"title":null,"tickSize":-5}},"text":{"field":"t"}}}
]}
]}
